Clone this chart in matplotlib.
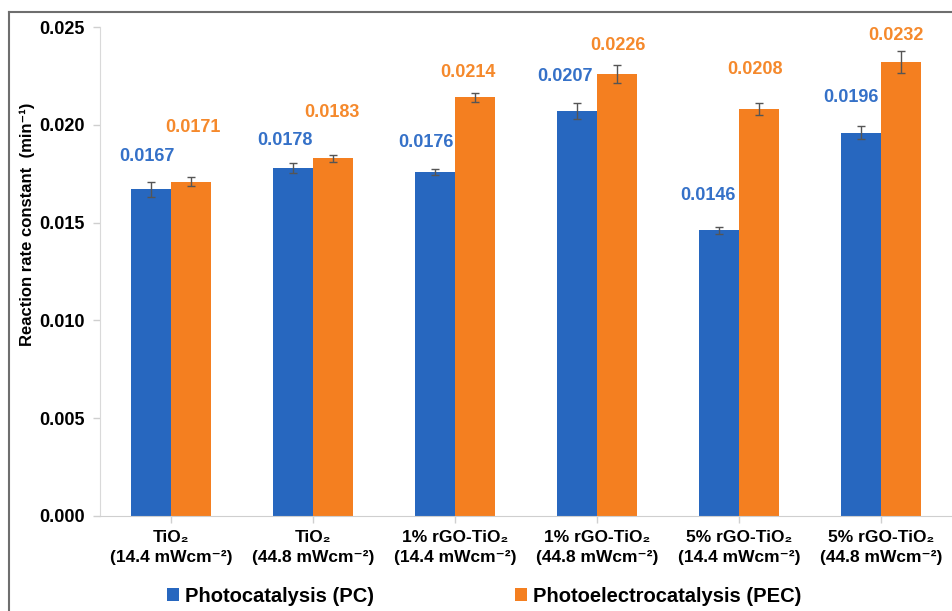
import matplotlib
matplotlib.use("Agg")
import matplotlib.pyplot as plt
from matplotlib.lines import Line2D
from matplotlib.patches import Patch
import numpy as np

# sample groups and measured rate constants (min^-1)
categories = [
    "TiO₂\n(14.4 mWcm⁻²)",
    "TiO₂\n(44.8 mWcm⁻²)",
    "1% rGO-TiO₂\n(14.4 mWcm⁻²)",
    "1% rGO-TiO₂\n(44.8 mWcm⁻²)",
    "5% rGO-TiO₂\n(14.4 mWcm⁻²)",
    "5% rGO-TiO₂\n(44.8 mWcm⁻²)",
]
pc = [0.0167, 0.0178, 0.0176, 0.0207, 0.0146, 0.0196]
pec = [0.0171, 0.0183, 0.0214, 0.0226, 0.0208, 0.0232]
pc_err = [0.0004, 0.00025, 0.00015, 0.0004, 0.0002, 0.00035]
pec_err = [0.00025, 0.00018, 0.00025, 0.00045, 0.0003, 0.00055]

# hand-placed value labels: offsets from bar top in pixels
pc_lbl_dx = [-4, -8, -9, -12, -11, -10]
pc_lbl_dy = [33, 27, 29, 35, 35, 35]
pec_lbl_dx = [2, -1, -7, 1, -4, -5]
pec_lbl_dy = [54, 46, 25, 28, 40, 27]

BLUE = "#2767bf"
ORANGE = "#f47f20"
BLUE_TXT = "#3571c8"
ORANGE_TXT = "#f5892c"
FONT = ["Liberation Sans", "DejaVu Sans"]

plt.rcParams["font.family"] = FONT
plt.rcParams["font.weight"] = "bold"

fig = plt.figure(figsize=(9.53, 6.11), dpi=100)
ax = fig.add_axes([100 / 953, 1 - 516 / 611, 852 / 953, 489 / 611])

x = np.arange(len(categories))
w = 0.283
px2pt = 0.72

ax.bar(x - w / 2, pc, w, color=BLUE, zorder=2)
ax.bar(x + w / 2, pec, w, color=ORANGE, zorder=2)
ax.errorbar(x - w / 2, pc, yerr=pc_err, fmt="none", ecolor="#555555",
            elinewidth=1, capsize=3, capthick=1, zorder=3)
ax.errorbar(x + w / 2, pec, yerr=pec_err, fmt="none", ecolor="#555555",
            elinewidth=1, capsize=3, capthick=1, zorder=3)

for i in range(len(categories)):
    ax.annotate(f"{pc[i]:.4f}", xy=(x[i] - w / 2, pc[i]),
                xytext=(pc_lbl_dx[i] * px2pt, pc_lbl_dy[i] * px2pt),
                textcoords="offset points", ha="center", va="center",
                color=BLUE_TXT, fontsize=13, fontweight="bold")
    ax.annotate(f"{pec[i]:.4f}", xy=(x[i] + w / 2, pec[i]),
                xytext=(pec_lbl_dx[i] * px2pt, pec_lbl_dy[i] * px2pt),
                textcoords="offset points", ha="center", va="center",
                color=ORANGE_TXT, fontsize=13, fontweight="bold")

ax.set_xlim(-0.5, len(categories) - 0.5)
ax.set_ylim(0, 0.025)
ax.set_yticks(np.arange(0, 0.0251, 0.005))
ax.set_yticklabels([f"{v:.3f}" for v in np.arange(0, 0.0251, 0.005)],
                   fontsize=13, fontweight="bold")
ax.set_xticks(x)
ax.set_xticklabels(categories, fontsize=12.5, fontweight="bold", linespacing=1.45)

for side in ["top", "right"]:
    ax.spines[side].set_visible(False)
ax.spines["left"].set_color("#d9d9d9")
ax.spines["bottom"].set_color("#cfcfcf")
ax.tick_params(axis="both", colors="#cfcfcf", labelcolor="black", length=5, width=1)
ax.tick_params(axis="y", pad=6)
ax.tick_params(axis="x", pad=5)

ax.set_ylabel("Reaction rate constant  (min⁻¹)", fontsize=12, fontweight="bold")
ax.yaxis.set_label_coords(-0.076, 0.597)

handles = [Patch(facecolor=BLUE, label="Photocatalysis (PC)"),
           Patch(facecolor=ORANGE, label="Photoelectrocatalysis (PEC)")]
fig.legend(handles=handles, loc="center", bbox_to_anchor=(0.508, 0.0245), ncol=2,
           frameon=False, prop={"family": FONT, "weight": "bold", "size": 14.5},
           handlelength=0.6, handleheight=0.6, handletextpad=0.3,
           columnspacing=7.0, borderaxespad=0)

# outer frame lines (left and top edges)
fig.add_artist(Line2D([9 / 953, 9 / 953], [0, 1 - 12 / 611], transform=fig.transFigure,
                      color="#6e6e6e", lw=1.5))
fig.add_artist(Line2D([9 / 953, 1], [1 - 12 / 611, 1 - 12 / 611], transform=fig.transFigure,
                      color="#6e6e6e", lw=1.5))

fig.savefig("out.png", dpi=100)
